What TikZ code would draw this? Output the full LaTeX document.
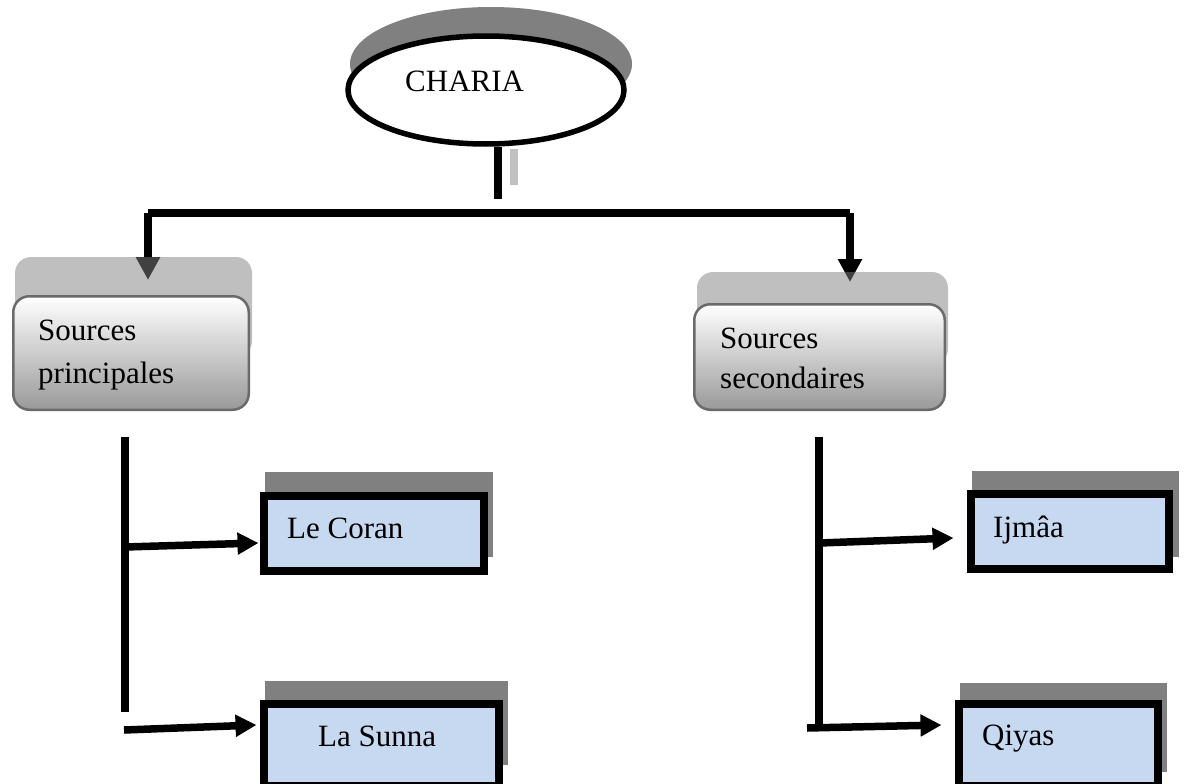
\documentclass[tikz,border=0pt]{standalone}
\usepackage{fontspec}
\setmainfont{Liberation Serif}
\usetikzlibrary{shapes.geometric,arrows.meta,calc}
\definecolor{boxblue}{HTML}{C6D9F0}
\definecolor{shadowgray}{HTML}{808080}
\definecolor{stemgray}{HTML}{C0C0C0}
\definecolor{roundedge}{HTML}{6A6A6A}
\pgfdeclarelayer{wires}
\pgfsetlayers{wires,main}

\begin{document}
\begin{tikzpicture}[x=1pt,y=-1pt,
  lbl/.style={font=\fontsize{31}{40}\selectfont, inner sep=0pt, anchor=base west},
  wire/.style={line width=8pt, black},
  droparrow/.style={wire, -{Triangle[length=23pt,width=23pt]}},
  branch/.style={line width=7.5pt, black, -{Triangle[length=21pt,width=21pt]}},
  bluebox/.style={draw=black, line width=8pt, fill=boxblue, inner sep=0pt},
  flatshadow/.style={fill=shadowgray, draw=none, inner sep=0pt},
  softshadow/.style={fill=shadowgray, fill opacity=0.5, draw=none, rounded corners=16pt, inner sep=0pt},
  srcbox/.style={draw=roundedge, line width=2.5pt, rounded corners=16pt,
    top color=white, middle color=black!7, bottom color=black!40, inner sep=0pt},
]
\useasboundingbox (0,0) rectangle (1186,784);

% --- top ellipse with its flat shadow
\node[ellipse, flatshadow, minimum width=282pt, minimum height=114pt] (chariashadow) at (491,64) {};
\node[ellipse, draw=black, line width=5.5pt, fill=white, minimum width=276pt, minimum height=108pt, inner sep=0pt] (charia) at (486,90) {};
\node[lbl] (chariatxt) at (405,92) {CHARIA};

% --- stem under the ellipse and the distribution bar
\coordinate (stemend) at (498,199);
\coordinate (barL) at (148,213);
\coordinate (barR) at (850,213);
\draw[stemgray, line width=7.5pt] ($(charia.south)+(28,2.5)$) -- ($(charia.south)+(28,38.5)$);
\draw[wire] ($(charia.south)+(12,0)$) -- (stemend);
\draw[wire] (barL) -- (barR);

% --- the two source boxes and their translucent shadows
\node[softshadow, minimum width=237pt, minimum height=100pt] (src1shadow) at (133.5,307) {};
\node[softshadow, minimum width=251pt, minimum height=93pt] (src2shadow) at (822.5,318.5) {};
\node[srcbox, minimum width=235.5pt, minimum height=113.5pt] (src1) at (131,353) {};
\node[srcbox, minimum width=250.5pt, minimum height=105.5pt] (src2) at (819.5,357) {};
\node[lbl] (src1a) at (38,340) {Sources};
\node[lbl] (src1b) at (38,383) {principales};
\node[lbl] (src2a) at (720,348) {Sources};
\node[lbl] (src2b) at (720,388) {secondaires};

% drop arrows sit underneath, so the shadows tint their heads
\begin{pgfonlayer}{wires}
\draw[droparrow] (barL) -- ($(src1.north)+(17,-15)$);
\draw[droparrow] (barR) -- ($(src2.north)+(30.5,-21)$);
\end{pgfonlayer}

% --- trunks under the source boxes
\coordinate (ltop) at (125,437);
\coordinate (lbot) at (125,712);
\coordinate (lmid) at (125,547);
\coordinate (llow) at (124,730);
\coordinate (rtop) at (819,437);
\coordinate (rbot) at (819,731);
\coordinate (rmid) at (820,543);
\coordinate (rlow) at (807,728);
\draw[wire] (ltop) -- (lbot);
\draw[wire] (rtop) -- (rbot);

% --- leaf boxes with their shadows
\node[flatshadow, minimum width=228pt, minimum height=85pt] (coranshadow) at (379,514.5) {};
\node[bluebox, minimum width=220pt, minimum height=75pt] (coran) at (374,533.5) {};
\node[flatshadow, minimum width=243pt, minimum height=84pt] (sunnashadow) at (386.5,723) {};
\node[bluebox, minimum width=235pt, minimum height=82pt] (sunna) at (381.5,745) {};
\node[flatshadow, minimum width=207pt, minimum height=86pt] (ijmaashadow) at (1075.5,514) {};
\node[bluebox, minimum width=198pt, minimum height=75pt] (ijmaa) at (1070,531.5) {};
\node[flatshadow, minimum width=207pt, minimum height=89pt] (qiyasshadow) at (1063.5,727.5) {};
\node[bluebox, minimum width=199pt, minimum height=82pt] (qiyas) at (1058.5,745) {};

\node[lbl] (corantxt) at (287,538) {Le Coran};
\node[lbl] (sunnatxt) at (318,746) {La Sunna};
\node[lbl] (ijmaatxt) at (993,537) {Ijmâa};
\node[lbl] (qiyastxt) at (982,745) {Qiyas};

% --- branch arrows
\draw[branch] (lmid) -- ($(coran.west)+(-1.5,9.5)$);
\draw[branch] (llow) -- ($(sunna.west)+(-3.5,-20)$);
\draw[branch] (rmid) -- ($(ijmaa.west)+(-13.5,6.5)$);
\draw[branch] (rlow) -- ($(qiyas.west)+(-13.5,-20)$);
\end{tikzpicture}
\end{document}
